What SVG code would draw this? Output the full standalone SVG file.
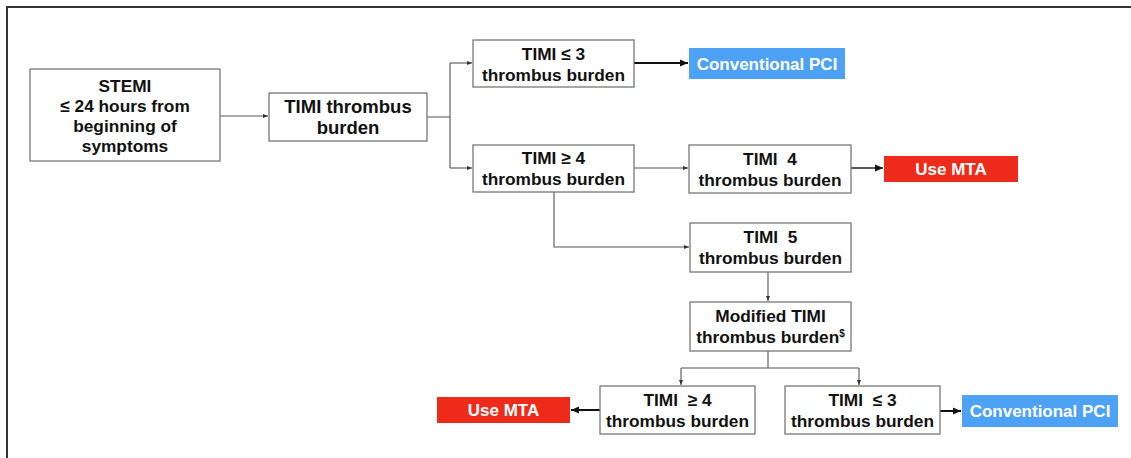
<svg xmlns="http://www.w3.org/2000/svg" width="1131" height="458" viewBox="0 0 1131 458">
<style>
.box{fill:#fff;stroke:#777;stroke-width:1.3}
.t{font-family:"Liberation Sans",Arial,sans-serif;font-weight:bold;font-size:17.3px;fill:#111;text-anchor:middle;white-space:pre}
.w{font-family:"Liberation Sans",Arial,sans-serif;font-weight:bold;font-size:17px;fill:#fff;text-anchor:middle}
.c{fill:none;stroke:#555;stroke-width:1.1}
.k{fill:none;stroke:#111;stroke-width:2}
.blue{fill:#4da2f6}
.red{fill:#ee2a1a}
</style>
<defs>
<marker id="a" markerUnits="userSpaceOnUse" markerWidth="6" markerHeight="6" refX="5" refY="3" orient="auto"><path d="M0,1 L5,3 L0,5 z" fill="#333"/></marker>
<marker id="b" markerUnits="userSpaceOnUse" markerWidth="9" markerHeight="8" refX="8" refY="4" orient="auto"><path d="M0,0.5 L8,4 L0,7.5 z" fill="#111"/></marker>
</defs>
<rect width="1131" height="458" fill="#fff"/>
<path d="M1131,7 H7 V458" fill="none" stroke="#333" stroke-width="2"/>
<g id="connectors">
<path class="c" d="M220,116 H268" marker-end="url(#a)"/>
<path class="c" d="M427,117 H450 M450,63 V168"/>
<path class="c" d="M450,63 H472" marker-end="url(#a)"/>
<path class="c" d="M450,168 H472" marker-end="url(#a)"/>
<path class="k" d="M634,63 H688" marker-end="url(#b)"/>
<path class="c" d="M634,168 H688" marker-end="url(#a)"/>
<path class="c" style="stroke:#222;stroke-width:1.5" d="M851,168 H883" marker-end="url(#b)"/>
<path class="c" d="M554,192 V247 H689" marker-end="url(#a)"/>
<path class="c" d="M768,272 V301" marker-end="url(#a)"/>
<path class="c" d="M768,351 V368 M681,368 H859"/>
<path class="c" d="M681,368 V385" marker-end="url(#a)"/>
<path class="c" d="M859,368 V385" marker-end="url(#a)"/>
<path class="k" d="M600,410 H571" marker-end="url(#b)"/>
<path class="k" d="M940,411 H961" marker-end="url(#b)"/>
</g>
<g id="stemi"><rect class="box" x="30" y="69" width="190" height="92"/>
<text class="t" x="125" y="92" font-size="17.8">STEMI</text><text class="t" x="125" y="112" font-size="17.8">≤ 24 hours from</text><text class="t" x="125" y="132" font-size="17.8">beginning of</text><text class="t" x="125" y="152" font-size="17.8">symptoms</text></g>
<g id="timi-burden"><rect class="box" x="269" y="93" width="158" height="48"/>
<text class="t" x="348" y="113" style="font-size:18.5px">TIMI thrombus</text><text class="t" x="348" y="134" style="font-size:18.5px">burden</text></g>
<g id="timi-le3"><rect class="box" x="473" y="40" width="161" height="47"/>
<text class="t" x="553.5" y="60">TIMI ≤ 3</text><text class="t" x="553.5" y="81">thrombus burden</text></g>
<g id="pci-1"><rect class="blue" x="689" y="48" width="156" height="31"/><text class="w" x="767" y="70">Conventional PCI</text></g>
<g id="timi-ge4"><rect class="box" x="473" y="145" width="161" height="47"/>
<text class="t" x="553.5" y="164">TIMI ≥ 4</text><text class="t" x="553.5" y="185">thrombus burden</text></g>
<g id="timi-4"><rect class="box" x="689" y="145" width="162" height="48"/>
<text class="t" x="770" y="165">TIMI  4</text><text class="t" x="770" y="186">thrombus burden</text></g>
<g id="mta-1"><rect class="red" x="884" y="156" width="134" height="26"/><text class="w" x="951" y="175">Use MTA</text></g>
<g id="timi-5"><rect class="box" x="690" y="223" width="161" height="49"/>
<text class="t" x="770.5" y="243">TIMI  5</text><text class="t" x="770.5" y="264">thrombus burden</text></g>
<g id="modified"><rect class="box" x="690" y="302" width="161" height="49"/>
<text class="t" x="770.5" y="322">Modified TIMI</text><text class="t" x="770.5" y="343">thrombus burden<tspan font-size="10" dy="-6">$</tspan></text></g>
<g id="timi-ge4-b"><rect class="box" x="600" y="386" width="155" height="48"/>
<text class="t" x="677.5" y="406">TIMI  ≥ 4</text><text class="t" x="677.5" y="427">thrombus burden</text></g>
<g id="mta-2"><rect class="red" x="437" y="397" width="133" height="26"/><text class="w" x="503.5" y="416">Use MTA</text></g>
<g id="timi-le3-b"><rect class="box" x="785" y="386" width="155" height="48"/>
<text class="t" x="862.5" y="406">TIMI  ≤ 3</text><text class="t" x="862.5" y="427">thrombus burden</text></g>
<g id="pci-2"><rect class="blue" x="962" y="395" width="156" height="32"/><text class="w" x="1040" y="417">Conventional PCI</text></g>
</svg>
